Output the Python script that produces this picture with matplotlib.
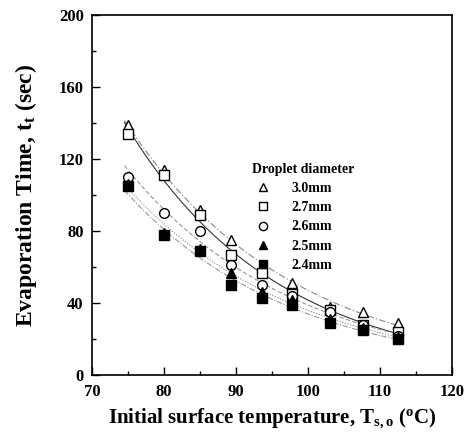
import matplotlib.pyplot as plt
import numpy as np

plt.rcParams['font.family'] = 'Liberation Serif'
plt.rcParams['font.weight'] = 'bold'
plt.rcParams['axes.labelweight'] = 'bold'
plt.rcParams['mathtext.fontset'] = 'custom'
plt.rcParams['mathtext.rm'] = 'Liberation Serif:bold'
plt.rcParams['mathtext.it'] = 'Liberation Serif:bold'
plt.rcParams['mathtext.default'] = 'rm'

# temperatures (C)
temps = [75, 80, 85, 89.3, 93.6, 97.8, 103, 107.6, 112.5]

# evaporation time (sec) for each droplet diameter
t_30 = [139, 114, 92, 75, 60, 51, 38, 35, 29]
t_27 = [134, 111, 89, 67, 57, 45, 36, 28, 24]
t_26 = [110, 90, 80, 61, 50, 44, 35, 28, 22]
t_25 = [106, 79, 70, 57, 46, 42, 31, 26, 21]
t_24 = [105, 78, 69, 50, 43, 39, 29, 25, 20]

labels = ['3.0mm', '2.7mm', '2.6mm', '2.5mm', '2.4mm']
series = [t_30, t_27, t_26, t_25, t_24]
markers = ['^', 's', 'o', '^', 's']
fills = ['white', 'white', 'white', 'black', 'black']
line_styles = [(0, (6, 2, 1, 2)), '-', (0, (4, 2)), (0, (1, 1.5)), (0, (5, 1.5, 1, 1.5))]
line_colors = ['#888888', '#333333', '#999999', '#888888', '#999999']

fig = plt.figure(figsize=(4.77, 4.44), dpi=100)
ax = fig.add_axes([0.193, 0.155, 0.755, 0.811])

x = np.array(temps)
xf = np.linspace(74.5, 113, 200)
for i in range(len(series)):
    y = np.array(series[i])
    # exponential fit
    b, a = np.polyfit(x, np.log(y), 1)
    ax.plot(xf, np.exp(a + b * xf), linestyle=line_styles[i], color=line_colors[i], lw=0.8)

for i in range(len(series)):
    ax.plot(temps, series[i], linestyle='none', marker=markers[i], ms=7,
            mfc=fills[i], mec='black', mew=1.0, label=labels[i])

ax.set_xlim(70, 120)
ax.set_ylim(0, 200)
ax.set_xticks(np.arange(70, 121, 10))
ax.set_yticks(np.arange(0, 201, 40))
ax.set_xticks(np.arange(75, 120, 10), minor=True)
ax.set_yticks(np.arange(20, 200, 40), minor=True)
ax.tick_params(direction='in', which='major', length=6, width=1, labelsize=12, pad=6)
ax.tick_params(direction='in', which='minor', length=3, width=1)
ax.tick_params(top=False, right=False)
for lab in ax.get_xticklabels() + ax.get_yticklabels():
    lab.set_fontweight('bold')
for sp in ax.spines.values():
    sp.set_linewidth(1.2)

ax.set_xlabel('Initial surface temperature, T$_{s,o}$ ($^{o}$C)', fontsize=15,
              fontweight='bold', labelpad=5)
ax.set_ylabel('Evaporation Time, t$_{t}$ (sec)', fontsize=17, fontweight='bold', labelpad=14)

leg = ax.legend(title='Droplet diameter', loc='upper left', bbox_to_anchor=(0.41, 0.625),
                frameon=False, fontsize=10, handletextpad=1.3, labelspacing=0.45,
                alignment='left', handlelength=1.5, markerscale=0.85)
leg.get_title().set_fontweight('bold')
leg.get_title().set_fontsize(10)

plt.savefig('out.png', dpi=100)
